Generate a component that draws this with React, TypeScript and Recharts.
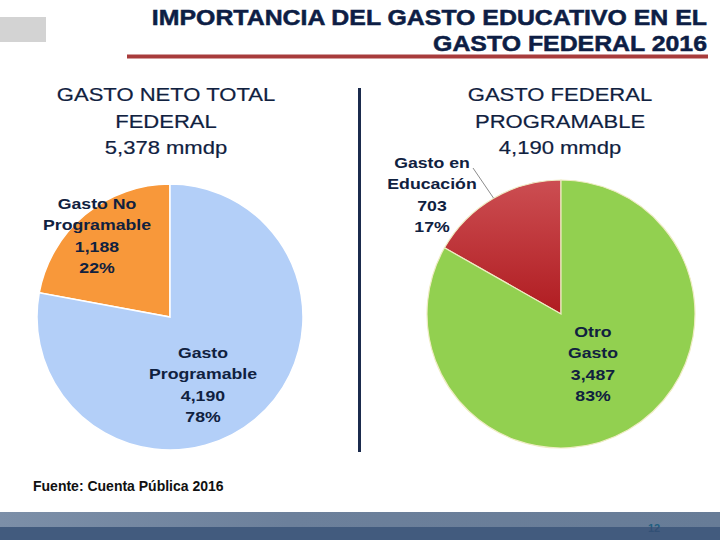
import React from "react";
import { PieChart, Pie, Cell } from "recharts";

const titleLines = ["IMPORTANCIA DEL GASTO EDUCATIVO EN EL", "GASTO FEDERAL 2016"];
const leftHeading = ["GASTO NETO TOTAL", "FEDERAL", "5,378 mmdp"];
const rightHeading = ["GASTO FEDERAL", "PROGRAMABLE", "4,190 mmdp"];
const sourceNote = "Fuente: Cuenta Pública 2016";
const slideNumber = "12";

const totalCategories = ["Gasto No\nProgramable", "Gasto\nProgramable"];
const totalValues = [1188, 4190];
const totalColors = ["#f8983a", "#b3cff8"];

const programableCategories = ["Gasto en\nEducación", "Otro\nGasto"];
const programableValues = [703, 3487];
const programableColors = ["url(#redGrad)", "#92d050"];

const totalData = totalCategories.map((name, i) => ({ name, value: totalValues[i] }));
const programableData = programableCategories.map((name, i) => ({ name, value: programableValues[i] }));

const FONT = "'Liberation Sans', Arial, Helvetica, sans-serif";
const NAVY = "#10213f";
const RADIAN = Math.PI / 180;

type STProps = {
  x: number;
  y: number;
  sx: number;
  anchor: "start" | "middle" | "end";
  size: number;
  weight?: string;
  fill: string;
  strokeW?: number;
  children: React.ReactNode;
};

const StretchText = ({ x, y, sx, anchor, size, weight = "normal", fill, strokeW = 0, children }: STProps) => (
  <g transform={`translate(${x},${y}) scale(${sx},1)`}>
    <text
      x={0}
      y={0}
      textAnchor={anchor}
      fontFamily={FONT}
      fontSize={size}
      fontWeight={weight}
      fill={fill}
      stroke={strokeW > 0 ? fill : "none"}
      strokeWidth={strokeW}
    >
      {children}
    </text>
  </g>
);

type Offset = { dx: number; dy: number };

const makeLabel =
  (categories: string[], values: number[], offsets: Offset[], leaderIndex: number | null) =>
  (props: any) => {
    const { cx, cy, midAngle, outerRadius, index } = props;
    const total = values.reduce((a, b) => a + b, 0);
    const value = values[index];
    const off = offsets[index];
    const lines = [
      ...categories[index].split("\n"),
      value.toLocaleString("en-US"),
      `${Math.round((value / total) * 100)}%`,
    ];
    const x = cx + off.dx;
    const y = cy + off.dy;
    let leader = null;
    if (leaderIndex === index) {
      const ex = cx + outerRadius * Math.cos(-midAngle * RADIAN);
      const ey = cy + outerRadius * Math.sin(-midAngle * RADIAN);
      leader = <line x1={ex} y1={ey} x2={x + 41} y2={y} stroke="#8c8c8c" strokeWidth={1} />;
    }
    return (
      <g>
        {leader}
        <g transform={`translate(${x},${y}) scale(1.18,1)`}>
          <text textAnchor="middle" fontFamily={FONT} fontWeight="bold" fontSize={15} fill={NAVY}>
            {lines.map((l, i) => (
              <tspan key={i} x={0} y={i * 21.5}>
                {l}
              </tspan>
            ))}
          </text>
        </g>
      </g>
    );
  };

export default function App() {
  const leftOffsets: Offset[] = [
    { dx: -73, dy: -108 },
    { dx: 33, dy: 41 },
  ];
  const rightOffsets: Offset[] = [
    { dx: -129, dy: -146 },
    { dx: 32, dy: 23 },
  ];

  return (
    <div style={{ position: "absolute", left: 0, top: 0, width: 720, height: 540, background: "#ffffff", overflow: "hidden" }}>
      <svg width={720} height={540} style={{ position: "absolute", left: 0, top: 0 }}>
        <defs>
          <linearGradient id="redGrad" x1="0" y1="0" x2="0" y2="1">
            <stop offset="0" stopColor="#cc4e52" />
            <stop offset="1" stopColor="#b01c21" />
          </linearGradient>
          <linearGradient id="bandGrad" x1="0" y1="0" x2="1" y2="0">
            <stop offset="0" stopColor="#7c8fa8" />
            <stop offset="0.4" stopColor="#6c809b" />
            <stop offset="1" stopColor="#677c97" />
          </linearGradient>
        </defs>
        <rect x={0} y={17} width={46} height={25} fill="#d3d3d3" />
        <StretchText x={707} y={25} sx={1.13} anchor="end" size={22} weight="bold" fill="#0d1e45" strokeW={0.5}>
          {titleLines[0]}
        </StretchText>
        <StretchText x={707} y={51} sx={1.13} anchor="end" size={22} weight="bold" fill="#0d1e45" strokeW={0.5}>
          {titleLines[1]}
        </StretchText>
        <rect x={127} y={54.5} width={581} height={4} fill="#a83c3c" />

        {leftHeading.map((t, i) => (
          <StretchText key={"l" + i} x={166} y={101 + i * 26.5} sx={1.16} anchor="middle" size={19} fill={NAVY} strokeW={0.2}>
            {t}
          </StretchText>
        ))}
        {rightHeading.map((t, i) => (
          <StretchText key={"r" + i} x={560} y={101 + i * 26.5} sx={1.16} anchor="middle" size={19} fill={NAVY} strokeW={0.2}>
            {t}
          </StretchText>
        ))}

        <rect x={358} y={88} width={3} height={364} fill="#1b2b4d" />

        <text x={33} y={491} fontFamily={FONT} fontSize={14} fontWeight="bold" fill="#111111">
          {sourceNote}
        </text>

        <rect x={0} y={512} width={720} height={15} fill="url(#bandGrad)" />
        <text x={654} y={532} textAnchor="middle" fontFamily={FONT} fontSize={11} fontWeight="bold" fill="#1f5f80">
          {slideNumber}
        </text>
        <rect x={0} y={527} width={720} height={13} fill="#344f74" opacity={0.93} />
      </svg>

      <div style={{ position: "absolute", left: 0, top: 0 }}>
        <PieChart width={720} height={540} margin={{ top: 0, right: 0, bottom: 0, left: 0 }}>
          <Pie
            data={totalData}
            dataKey="value"
            nameKey="name"
            cx={170}
            cy={317}
            outerRadius={133}
            startAngle={90}
            endAngle={450}
            isAnimationActive={false}
            labelLine={false}
            label={makeLabel(totalCategories, totalValues, leftOffsets, null)}
          >
            {totalData.map((d, i) => (
              <Cell key={d.name} fill={totalColors[i]} stroke="#ffffff" strokeWidth={1.5} />
            ))}
          </Pie>
          <Pie
            data={programableData}
            dataKey="value"
            nameKey="name"
            cx={561}
            cy={314}
            outerRadius={134}
            startAngle={90}
            endAngle={450}
            isAnimationActive={false}
            labelLine={false}
            label={makeLabel(programableCategories, programableValues, rightOffsets, 0)}
          >
            {programableData.map((d, i) => (
              <Cell key={d.name} fill={programableColors[i]} stroke="#efecc4" strokeWidth={1.2} />
            ))}
          </Pie>
        </PieChart>
      </div>
    </div>
  );
}
